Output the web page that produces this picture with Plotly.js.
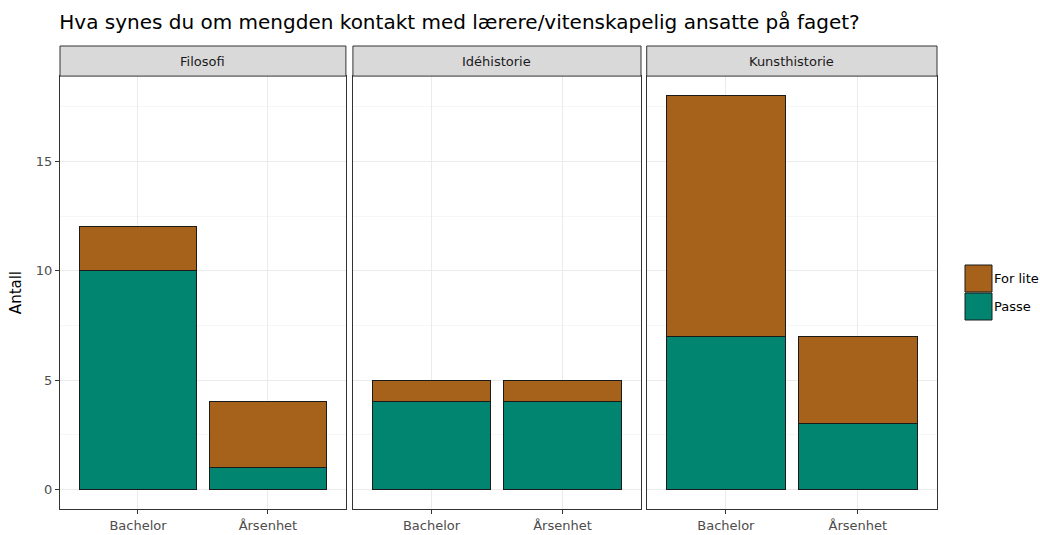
<!DOCTYPE html>
<html>
<head>
<meta charset="utf-8">
<script src="https://cdn.plot.ly/plotly-3.0.1.min.js"></script>
<style>html,body{margin:0;padding:0;background:#fff;}#chart{width:1040px;height:535px;}</style>
</head>
<body>
<div id="chart"></div>
<script>
const facets = ['Filosofi', 'Idéhistorie', 'Kunsthistorie'];
const categories = ['Bachelor', 'Årsenhet'];
const passe = [[10, 1], [4, 4], [7, 3]];
const forLite = [[2, 3], [1, 1], [11, 4]];
const seriesNames = ['Passe', 'For lite'];
const yTicks = [0, 5, 10, 15];

const colors = {'Passe': '#018571', 'For lite': '#A6611A'};
const FONT = 'DejaVu Sans, Verdana, sans-serif';
const SMALL = 13;
const domains = [[0, 0.326], [0.334, 0.6625], [0.669, 1]];
const plotTop = 0.935;

const traces = [];
facets.forEach((f, i) => {
  const ax = i === 0 ? '' : String(i + 1);
  [[seriesNames[0], passe[i]], [seriesNames[1], forLite[i]]].forEach(([name, vals]) => {
    traces.push({
      type: 'bar', x: categories, y: vals, name: name,
      xaxis: 'x' + ax, yaxis: 'y' + ax, showlegend: false,
      marker: {color: colors[name], line: {color: '#1a1a1a', width: 1}},
      hoverinfo: 'x+y+name'
    });
  });
});

const layout = {
  width: 1040, height: 535,
  margin: {l: 60, r: 103, t: 46, b: 26},
  paper_bgcolor: '#fff', plot_bgcolor: '#fff',
  barmode: 'stack', bargap: 0.1,
  font: {family: FONT, color: '#4d4d4d', size: SMALL},
  title: {text: 'Hva synes du om mengden kontakt med lærere/vitenskapelig ansatte på faget?',
    font: {family: FONT, size: 20, color: '#000'}, xref: 'container', x: 0.057, xanchor: 'left',
    yref: 'container', y: 1 - 22 / 535, yanchor: 'middle'},
  shapes: [], annotations: []
};

facets.forEach((f, i) => {
  const ax = i === 0 ? '' : String(i + 1);
  layout['xaxis' + ax] = {
    domain: domains[i], anchor: 'y' + ax, type: 'category', range: [-0.6, 1.6],
    showgrid: true, gridcolor: '#EBEBEB', gridwidth: 1,
    showline: true, mirror: true, linecolor: '#333333', linewidth: 1,
    ticks: 'outside', ticklen: 4, tickcolor: '#333333',
    tickfont: {family: FONT, size: SMALL, color: '#4d4d4d'}, zeroline: false, fixedrange: true
  };
  layout['yaxis' + ax] = {
    domain: [0, plotTop], anchor: 'x' + ax, range: [-0.9, 18.9],
    tickvals: yTicks, ticktext: yTicks.map(String),
    showgrid: true, gridcolor: '#EBEBEB', gridwidth: 1,
    minor: {dtick: 2.5, tick0: 0, showgrid: true, gridcolor: '#F6F6F6', gridwidth: 1, ticks: ''},
    showline: true, mirror: true, linecolor: '#333333', linewidth: 1,
    ticks: i === 0 ? 'outside' : '', ticklen: 4, tickcolor: '#333333',
    showticklabels: i === 0,
    tickfont: {family: FONT, size: SMALL, color: '#4d4d4d'}, zeroline: false, fixedrange: true
  };
  layout.shapes.push({type: 'rect', xref: 'paper', yref: 'paper',
    x0: domains[i][0], x1: domains[i][1], y0: plotTop, y1: 1,
    fillcolor: '#D9D9D9', line: {color: '#333333', width: 1}});
  layout.annotations.push({xref: 'paper', yref: 'paper', x: (domains[i][0] + domains[i][1]) / 2,
    y: (plotTop + 1) / 2, text: f, showarrow: false, xanchor: 'center', yanchor: 'middle',
    font: {family: FONT, size: SMALL, color: '#1a1a1a'}});
});

layout.yaxis.title = {text: 'Antall', font: {family: FONT, size: 15, color: '#000'}, standoff: 10};

// legend (drawn manually)
const legendItems = ['For lite', 'Passe'];
const pw = 877, ph = 463;
legendItems.forEach((name, k) => {
  const top = 265 + k * 28, bottom = top + 27;
  layout.shapes.push({type: 'rect', xref: 'paper', yref: 'paper',
    x0: (965 - 60) / pw, x1: (992 - 60) / pw,
    y0: (509 - bottom) / ph, y1: (509 - top) / ph,
    fillcolor: colors[name], line: {color: '#1a1a1a', width: 1}});
  layout.annotations.push({xref: 'paper', yref: 'paper', x: (992 - 60) / pw, y: (509 - (top + bottom) / 2) / ph,
    text: name, showarrow: false, xanchor: 'left', yanchor: 'middle',
    font: {family: FONT, size: SMALL, color: '#000'}});
});

Plotly.newPlot('chart', traces, layout, {displayModeBar: false, staticPlot: true});
</script>
</body>
</html>
